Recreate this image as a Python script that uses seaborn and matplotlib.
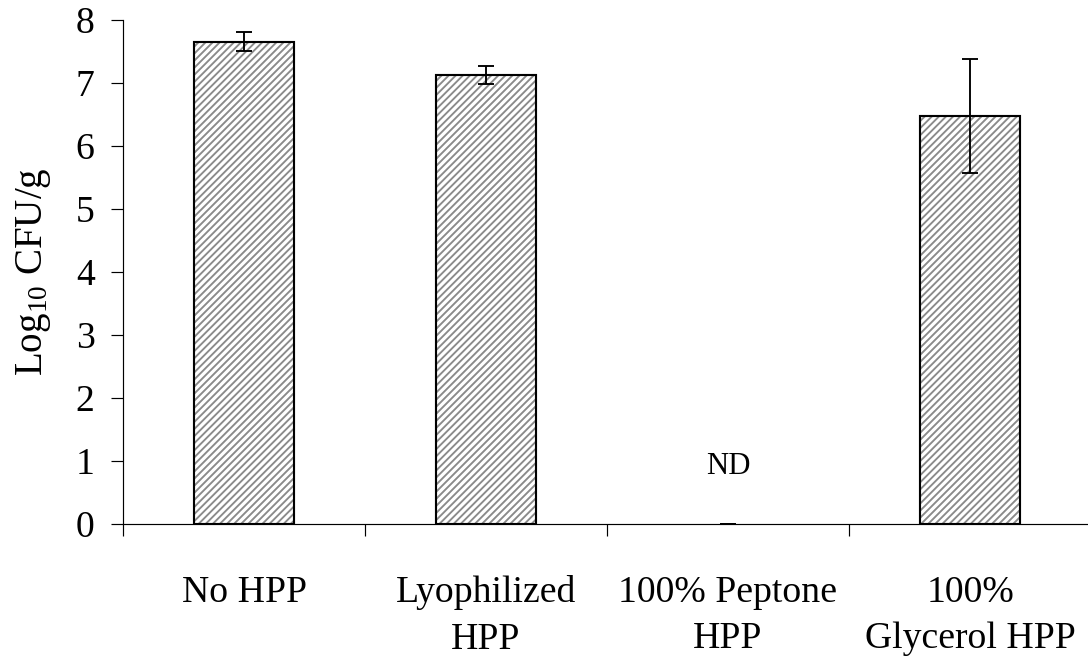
import numpy as np
import matplotlib
matplotlib.use("Agg")
import matplotlib.pyplot as plt
import seaborn as sns

categories = ["No HPP", "Lyophilized\nHPP", "100% Peptone\nHPP", "100%\nGlycerol HPP"]
values = [7.65, 7.12, 0.0, 6.47]
errors = [0.15, 0.14, 0.0, 0.90]
nd_label = "ND"
nd_value = 0.9
y_ticks = [0, 1, 2, 3, 4, 5, 6, 7, 8]

sns.set_theme(style="white")
plt.rcParams["font.family"] = ["Liberation Serif", "DejaVu Serif"]
plt.rcParams["mathtext.fontset"] = "custom"
plt.rcParams["mathtext.rm"] = "Liberation Serif"
plt.rcParams["mathtext.it"] = "Liberation Serif"
plt.rcParams["hatch.linewidth"] = 1.6
plt.rcParams["hatch.color"] = "#8a8a8a"
plt.rcParams["text.color"] = "black"

DPI = 85
fig = plt.figure(figsize=(1088 / DPI, 663 / DPI), dpi=DPI)
ax = fig.add_axes([123 / 1088, (663 - 523.5) / 663, 968 / 1088, 503.8 / 663])

# hatched fill
sns.barplot(x=categories, y=values, ax=ax, color="white", width=0.41,
            edgecolor="#8a8a8a", linewidth=0, saturation=1, errorbar=None)
for p in ax.patches:
    p.set_hatch("////")
    p.set_edgecolor("#8a8a8a")
    p.set_linewidth(0)
n_fill = len(ax.patches)

# outline
sns.barplot(x=categories, y=values, ax=ax, fill=False, width=0.41,
            edgecolor="black", linewidth=1.8, errorbar=None)
for p in ax.patches[n_fill:]:
    p.set_edgecolor("black")
    p.set_linewidth(1.8)
    p.set_hatch(None)
for p in ax.patches:
    if p.get_height() == 0:
        p.set_visible(False)

pos = np.arange(len(categories))
ax.errorbar(pos, values, yerr=errors, fmt="none", ecolor="black",
            elinewidth=1.6, capsize=6.5, capthick=1.6, zorder=5)

ax.text(pos[values.index(0.0)], nd_value, nd_label, ha="center", va="center",
        fontsize=26, color="black")

ax.set_xlim(-0.5, len(categories) - 0.5)
ax.set_ylim(0, 8)
ax.set_yticks(y_ticks)
ax.set_yticklabels([str(t) for t in y_ticks])
ax.set_xticks(pos)
ax.set_xticklabels(categories, fontsize=32, linespacing=1.45)
ax.set_xticks(np.arange(-0.5, len(categories), 1.0), minor=True)
ax.tick_params(axis="x", which="major", length=0, pad=44, labelcolor="black")
ax.tick_params(axis="x", which="minor", length=10.5, width=1.0, direction="out",
               color="black", bottom=True)
ax.tick_params(axis="y", which="major", length=10, width=1.0, direction="out",
               pad=14, labelsize=32, color="black", labelcolor="black", left=True)
ax.set_xlabel("")
ax.set_ylabel("Log$_{\\mathrm{10}}$ CFU/g", fontsize=33, labelpad=19, color="black")

for s in ["top", "right"]:
    ax.spines[s].set_visible(False)
for s in ["left", "bottom"]:
    ax.spines[s].set_color("black")
    ax.spines[s].set_linewidth(1.0)

fig.savefig("out.png", dpi=DPI, facecolor="white")
